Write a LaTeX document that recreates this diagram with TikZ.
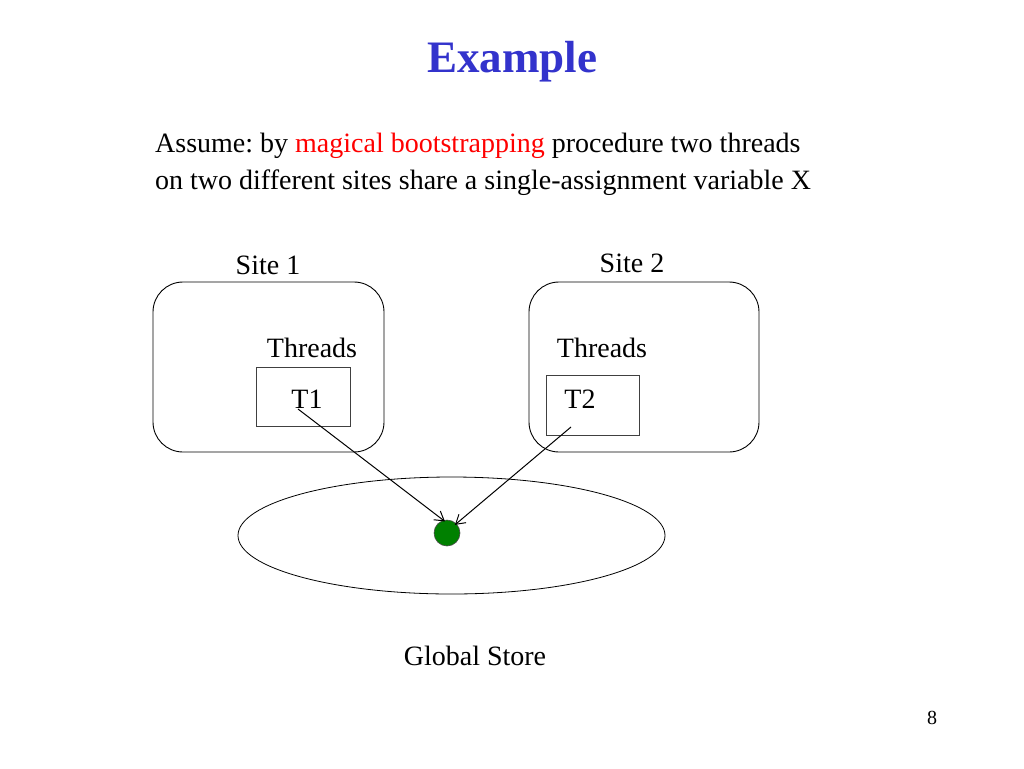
\documentclass[tikz,border=0pt]{standalone}
\usepackage{fontspec}
\setmainfont{Liberation Serif}
\usetikzlibrary{arrows.meta,shapes.geometric}
\definecolor{titleblue}{RGB}{51,51,204}
\definecolor{dotgreen}{RGB}{0,128,0}
\definecolor{boxgray}{RGB}{64,64,64}
\frenchspacing
\tikzset{
  sitebox/.style={draw=black, rounded corners=30pt, line width=0.9pt},
  tbox/.style={draw=boxgray, line width=0.9pt},
  lbl/.style={font=\fontsize{28}{32}\selectfont, inner sep=0pt},
  txt/.style={font=\fontsize{28}{32}\selectfont, inner sep=0pt, anchor=base west},
  conn/.style={-{Straight Barb[length=9pt,width=11pt,line width=1pt]}, line width=1pt, shorten >=-2pt},
}
\begin{document}
\begin{tikzpicture}[x=1pt,y=-1pt]
\useasboundingbox[fill=white] (0,0) rectangle (1024,768);
\node[font=\fontsize{45}{50}\selectfont\bfseries, text=titleblue, inner sep=0pt] (title) at (512,62) {Example};
\node[txt] (intro1) at (155,152) {Assume: by \textcolor{red}{magical bootstrapping} procedure two threads};
\node[txt] (intro2) at (155,189) {on two different sites share a single-assignment variable X};
% sites
\draw[sitebox] (153,282) rectangle (384,452);
\draw[sitebox] (529,282) rectangle (759,452);
\node[lbl] (s1lbl) at (268,265) {Site 1};
\node[lbl] (s2lbl) at (632,263) {Site 2};
\node[lbl] (th1) at (312,348) {Threads};
\node[lbl] (th2) at (602,348) {Threads};
% thread boxes
\node[tbox, minimum width=94pt, minimum height=59pt, inner sep=0pt] (t1box) at (303,396.5) {};
\node[tbox, minimum width=93pt, minimum height=60pt, inner sep=0pt] (t2box) at (592.5,405) {};
\node[lbl] (t1) at (307,399) {T1};
\node[lbl] (t2) at (580,399) {T2};
% global store
\node[draw, ellipse, line width=0.8pt, minimum width=427pt, minimum height=117pt, inner sep=0pt] (store) at (451.5,535.5) {};
\node[circle, fill=dotgreen, draw=black!70, line width=0.6pt, minimum size=26pt, inner sep=0pt] (x) at (447,533) {};
\node[lbl] (gs) at (475,656) {Global Store};
\coordinate (a1) at (298,409);
\coordinate (a2) at (571,427);
\draw[conn] (a1) -- (x.106);
\draw[conn] (a2) -- (x.45);
\node[font=\fontsize{20}{22}\selectfont, inner sep=0pt] (pg) at (932,718) {8};
\end{tikzpicture}
\end{document}
